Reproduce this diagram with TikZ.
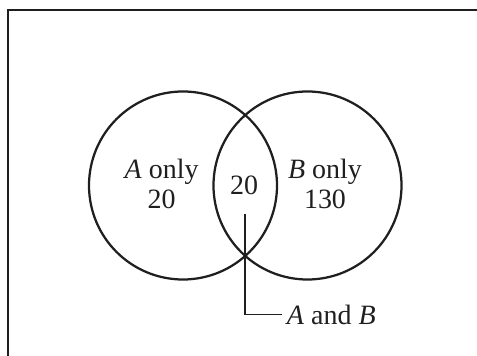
\documentclass[tikz,border=0pt]{standalone}
\usepackage{fontspec}
\setmainfont{Liberation Serif}
\usetikzlibrary{positioning}
\definecolor{ink}{gray}{0.12}

\begin{document}
\begin{tikzpicture}[
  set/.style={circle,draw=ink,line width=1.6pt,minimum size=4.7cm,inner sep=0pt},
  lbl/.style={font=\fontsize{19.9}{21.3}\selectfont,align=center,text=ink}]
\useasboundingbox (0,0) rectangle (11.925,8.9);
\begin{scope}
\clip (0,0) rectangle (11.925,8.9);
\draw[draw=ink,line width=2pt] (0.2,-1) |- (13,8.65);
\end{scope}
\node[set] (seta) at (4.575,4.2625) {};
\node[set] (setb) at (7.6875,4.2625) {};
\node[lbl] (aonly) at (4.04,4.31) {\textit{A} only\\20};
\node[lbl] (both) at (6.1,4.26) {20};
\node[lbl] (bonly) at (8.125,4.31) {\textit{B} only\\130};
\coordinate (lead) at (6.125,3.55);
\node[lbl,anchor=west] (ab) at (7.05,1.03) {\textit{A} and \textit{B}};
\draw[draw=ink,line width=0.8pt] (lead) |- (ab.west);
\end{tikzpicture}
\end{document}
